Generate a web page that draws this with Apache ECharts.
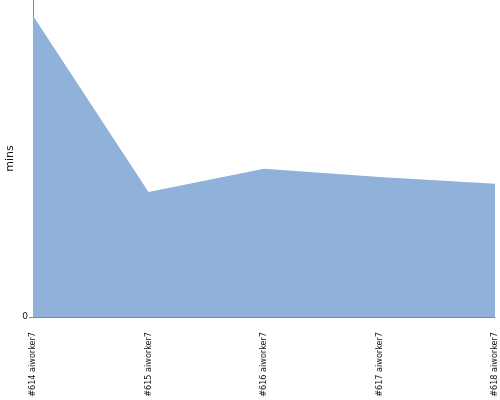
<!DOCTYPE html>
<html>
<head>
<meta charset="utf-8">
<script src="https://cdn.jsdelivr.net/npm/echarts@6/dist/echarts.min.js"></script>
<style>html,body{margin:0;padding:0;background:#fff}#c{width:500px;height:400px}</style>
</head>
<body>
<div id="c"></div>
<script>
var categories = ['#614 aiworker7', '#615 aiworker7', '#616 aiworker7', '#617 aiworker7', '#618 aiworker7'];
var minsValues = [9.5, 3.94, 4.68, 4.42, 4.2];
var yTicks = [0, 10];

var chart = echarts.init(document.getElementById('c'), null, {renderer: 'canvas'});
chart.setOption({
  animation: false,
  grid: {left: 33, right: 5, top: 0, bottom: 83, containLabel: false, outerBoundsMode: 'none'},
  xAxis: {
    type: 'category',
    data: categories,
    boundaryGap: false,
    axisLine: {show: true, lineStyle: {color: '#888', width: 1}},
    axisTick: {show: false},
    axisLabel: {
      rotate: 90, margin: 15, interval: 0,
      fontFamily: 'DejaVu Sans Condensed', fontSize: 9, color: '#111'
    },
    splitLine: {show: false}
  },
  yAxis: {
    type: 'value',
    min: yTicks[0], max: yTicks[1], interval: yTicks[1] - yTicks[0],
    name: 'mins', nameLocation: 'middle', nameGap: 17, nameRotate: 90,
    nameMoveOverlap: false,
    nameTextStyle: {fontFamily: 'DejaVu Sans', fontSize: 11, color: '#111'},
    axisLine: {show: true, lineStyle: {color: '#888', width: 1}},
    axisTick: {show: true, length: 4, lineStyle: {color: '#888'}},
    axisLabel: {showMaxLabel: false, margin: 5, fontFamily: 'DejaVu Sans', fontSize: 9, color: '#111'},
    splitLine: {show: false}
  },
  series: [{
    type: 'line',
    data: minsValues,
    symbol: 'none',
    lineStyle: {width: 0},
    areaStyle: {color: '#8FB1DA', opacity: 1}
  }]
});
</script>
</body>
</html>
